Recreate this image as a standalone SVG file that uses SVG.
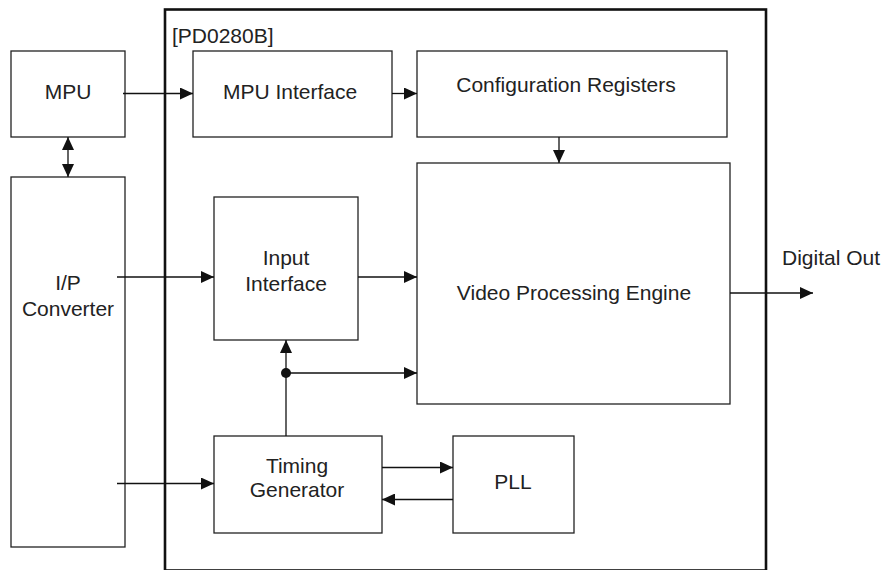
<svg xmlns="http://www.w3.org/2000/svg" width="886" height="570" viewBox="0 0 886 570">
<style>
.box{fill:#fff;stroke:#222;stroke-width:1.3}
.chip{fill:none;stroke:#111;stroke-width:2.6}
.t{font-family:"Liberation Sans",Arial,sans-serif;font-size:21px;fill:#222}
.c{text-anchor:middle}
.w{fill:none;stroke:#111;stroke-width:1.3}
</style>
<defs>
<marker id="ah" viewBox="0 0 13 12" refX="13" refY="6" markerWidth="13" markerHeight="12" markerUnits="userSpaceOnUse" orient="auto-start-reverse">
<path d="M0,0 L13,6 L0,12 Z" fill="#111"/>
</marker>
</defs>
<rect class="chip" x="165" y="9.5" width="601" height="561"/>
<g id="chip-label"><text class="t" x="172" y="43">[PD0280B]</text></g>
<g id="mpu"><rect class="box" x="11" y="51" width="114" height="86"/><text class="t c" x="68" y="99">MPU</text></g>
<g id="ipconv"><rect class="box" x="11" y="177" width="114" height="370"/><text class="t c" x="68" y="290">I/P</text><text class="t c" x="68" y="316">Converter</text></g>
<g id="mpuif"><rect class="box" x="193" y="51" width="199" height="86"/><text class="t c" x="290" y="99">MPU Interface</text></g>
<g id="config"><rect class="box" x="417" y="51" width="310" height="86"/><text class="t c" x="566" y="91.5">Configuration Registers</text></g>
<g id="vpe"><rect class="box" x="417" y="163" width="313" height="241"/><text class="t c" x="574" y="300">Video Processing Engine</text></g>
<g id="inputif"><rect class="box" x="214" y="197" width="144" height="143"/><text class="t c" x="286" y="265">Input</text><text class="t c" x="286" y="290.5">Interface</text></g>
<g id="timing"><rect class="box" x="214" y="436" width="168" height="97"/><text class="t c" x="297" y="473">Timing</text><text class="t c" x="297" y="497">Generator</text></g>
<g id="pll"><rect class="box" x="453" y="436" width="121" height="97"/><text class="t c" x="513" y="489">PLL</text></g>
<g id="digout"><text class="t" x="782" y="265">Digital Out</text></g>
<g id="connectors">
<line class="w" x1="123" y1="93.5" x2="193" y2="93.5" marker-end="url(#ah)"/>
<line class="w" x1="392" y1="93.5" x2="417" y2="93.5" marker-end="url(#ah)"/>
<line class="w" x1="559" y1="137" x2="559" y2="163" marker-end="url(#ah)"/>
<line class="w" x1="68" y1="137" x2="68" y2="177" marker-start="url(#ah)" marker-end="url(#ah)"/>
<line class="w" x1="117" y1="277" x2="214" y2="277" marker-end="url(#ah)"/>
<line class="w" x1="358" y1="277" x2="417" y2="277" marker-end="url(#ah)"/>
<line class="w" x1="286" y1="436" x2="286" y2="340" marker-end="url(#ah)"/>
<line class="w" x1="286" y1="373" x2="417" y2="373" marker-end="url(#ah)"/>
<circle cx="286" cy="373" r="5" fill="#111"/>
<line class="w" x1="117" y1="483.5" x2="214" y2="483.5" marker-end="url(#ah)"/>
<line class="w" x1="382" y1="467.5" x2="453" y2="467.5" marker-end="url(#ah)"/>
<line class="w" x1="453" y1="499.5" x2="382" y2="499.5" marker-end="url(#ah)"/>
<line class="w" x1="730" y1="293" x2="813" y2="293" marker-end="url(#ah)"/>
</g>
</svg>
